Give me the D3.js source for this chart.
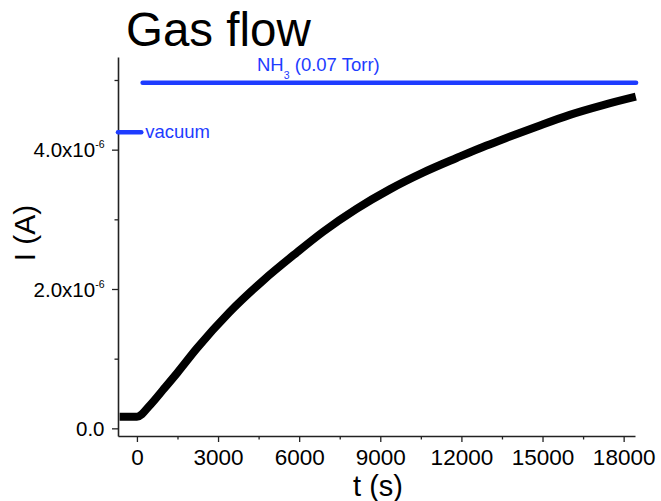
<!DOCTYPE html>
<html>
<head>
<meta charset="utf-8">
<script src="https://cdn.jsdelivr.net/npm/d3@7"></script>
<style>
  html, body { margin: 0; padding: 0; background: #fff; }
  svg { display: block; font-family: "Liberation Sans", Arial, sans-serif; }
</style>
</head>
<body>
<svg id="chart" width="661" height="501"></svg>
<script>
// ---- data ----
const timeS = [-640, 0, 500, 960, 1500, 2200, 3430, 4660, 5900, 6880, 8120, 9350, 10580, 11820, 12930, 13540, 14780, 16010, 17240, 18450];
const currentA = [0.167e-6, 0.167e-6, 0.34e-6, 0.55e-6, 0.80e-6, 1.14e-6, 1.67e-6, 2.12e-6, 2.52e-6, 2.82e-6, 3.15e-6, 3.43e-6, 3.67e-6, 3.88e-6, 4.06e-6, 4.15e-6, 4.33e-6, 4.50e-6, 4.64e-6, 4.76e-6];

const vacuumT = [-700, 160];
const vacuumLevel = 4.25e-6;
const nh3T = [210, 18460];
const nh3Level = 4.96e-6;

const xTicks = [0, 3000, 6000, 9000, 12000, 15000, 18000];
const xMinorTicks = [1500, 4500, 7500, 10500, 13500, 16500];
const yTicks = [0, 2e-6, 4e-6];
const yTickMantissa = ["0.0", "2.0", "4.0"];
const yTickExponent = [null, "-6", "-6"];
const yMinorTicks = [1e-6, 3e-6, 5e-6];

const xDomain = [-700, 18420];
const yDomain = [-0.11e-6, 5.33e-6];

// ---- layout ----
const plotLeft = 118, plotRight = 635, plotTop = 57, plotBottom = 436;
const blue = "#1e3cff";
const FONT = "Liberation Sans, Arial, sans-serif";

const svg = d3.select("#chart");
const x = d3.scaleLinear().domain(xDomain).range([plotLeft, plotRight]);
const y = d3.scaleLinear().domain(yDomain).range([plotBottom, plotTop]);

// title
svg.append("text")
  .attr("x", 126).attr("y", 46)
  .attr("font-size", 47.5)
  .attr("fill", "#000")
  .text("Gas flow");

// axes: minor ticks
svg.append("g")
  .attr("transform", `translate(0,${plotBottom})`)
  .call(d3.axisBottom(x).tickValues(xMinorTicks).tickSize(3.5).tickSizeOuter(0).tickFormat(""))
  .call(g => g.select(".domain").remove())
  .call(g => g.selectAll("line").attr("stroke", "#222").attr("stroke-width", 1.3));

svg.append("g")
  .attr("transform", `translate(${plotLeft},0)`)
  .call(d3.axisLeft(y).tickValues(yMinorTicks).tickSize(3.5).tickSizeOuter(0).tickFormat(""))
  .call(g => g.select(".domain").remove())
  .call(g => g.selectAll("line").attr("stroke", "#222").attr("stroke-width", 1.3));

// x axis major
const gx = svg.append("g")
  .attr("transform", `translate(0,${plotBottom})`)
  .call(d3.axisBottom(x).tickValues(xTicks).tickSize(6).tickSizeOuter(0).tickPadding(7).tickFormat(d3.format("d")));
gx.select(".domain").attr("stroke", "#222").attr("stroke-width", 1.6);
gx.selectAll("line").attr("stroke", "#222").attr("stroke-width", 1.3);
gx.selectAll("text").attr("font-size", 22.5).attr("fill", "#000").attr("font-family", FONT);

// y axis major
const gy = svg.append("g")
  .attr("transform", `translate(${plotLeft},0)`)
  .call(d3.axisLeft(y).tickValues(yTicks).tickSize(6).tickSizeOuter(0).tickPadding(7.5).tickFormat(""));
gy.select(".domain").attr("stroke", "#222").attr("stroke-width", 1.6);
gy.selectAll("line").attr("stroke", "#222").attr("stroke-width", 1.3);
gy.selectAll(".tick text").each(function(d) {
  const t = d3.select(this)
    .attr("font-size", 20.5).attr("fill", "#000")
    .attr("font-family", FONT)
    .attr("dy", "0.35em")
    .attr("text-anchor", "end");
  const k = yTicks.indexOf(d);
  if (yTickExponent[k]) {
    t.append("tspan").text(yTickMantissa[k] + "x10");
    t.append("tspan").attr("font-size", 10.5).attr("dy", -9).text(yTickExponent[k]);
  } else {
    t.text(yTickMantissa[k]);
  }
});

// axis titles
svg.append("text")
  .attr("x", 378).attr("y", 496)
  .attr("text-anchor", "middle")
  .attr("font-size", 29)
  .attr("fill", "#000")
  .text("t (s)");

svg.append("text")
  .attr("transform", "translate(35,233) rotate(-90)")
  .attr("text-anchor", "middle")
  .attr("font-size", 30)
  .attr("fill", "#000")
  .text("I (A)");

// blue gas-flow markers
const hline = d3.line().x(d => x(d[0])).y(d => y(d[1]));
svg.append("path")
  .attr("d", hline(vacuumT.map(t => [t, vacuumLevel])))
  .attr("stroke", blue).attr("stroke-width", 4.5).attr("stroke-linecap", "round").attr("fill", "none");
svg.append("path")
  .attr("d", hline(nh3T.map(t => [t, nh3Level])))
  .attr("stroke", blue).attr("stroke-width", 4.5).attr("stroke-linecap", "round").attr("fill", "none");

svg.append("text")
  .attr("x", x(vacuumT[1]) + 4).attr("y", y(vacuumLevel) + 6)
  .attr("font-size", 18.5).attr("fill", blue)
  .text("vacuum");

const nh3 = svg.append("text")
  .attr("x", 257).attr("y", 71)
  .attr("font-size", 18.5).attr("fill", blue);
nh3.append("tspan").text("NH");
nh3.append("tspan").attr("font-size", 10.5).attr("dy", 8).text("3");
nh3.append("tspan").attr("dy", -8).text(" (0.07 Torr)");

// current curve
const line = d3.line()
  .x((d, i) => x(timeS[i]))
  .y(d => y(d))
  .curve(d3.curveMonotoneX);
svg.append("path")
  .datum(currentA)
  .attr("d", line)
  .attr("fill", "none")
  .attr("stroke", "#000")
  .attr("stroke-width", 8)
  .attr("stroke-linecap", "butt")
  .attr("stroke-linejoin", "miter");
</script>
</body>
</html>
